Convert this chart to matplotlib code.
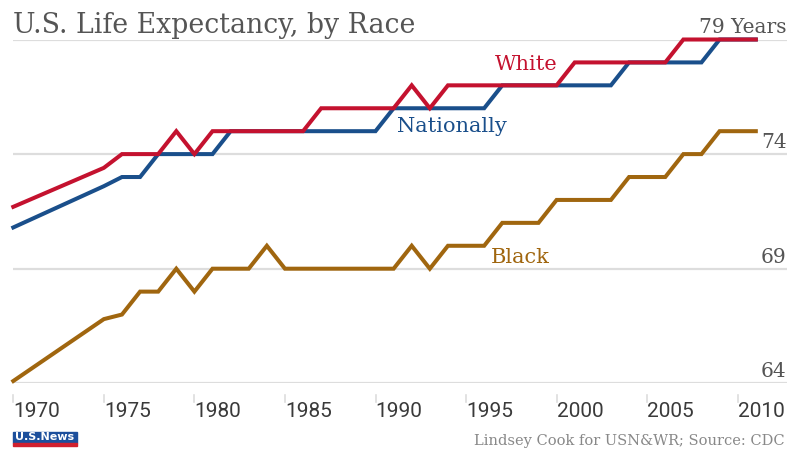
import matplotlib.pyplot as plt
from matplotlib.patches import Rectangle

# life expectancy at birth, US, by race (CDC)
years = [1970] + list(range(1975, 2012))
nationally = [70.8, 72.6, 73, 73, 74, 74, 74, 74, 75, 75, 75, 75, 75, 75, 75, 75, 75,
              76, 76, 76, 76, 76, 76, 77, 77, 77, 77, 77, 77, 77, 78, 78, 78, 78, 78,
              79, 79, 79]
white = [71.7, 73.4, 74, 74, 74, 75, 74, 75, 75, 75, 75, 75, 75, 76, 76, 76, 76, 76,
         77, 76, 77, 77, 77, 77, 77, 77, 77, 78, 78, 78, 78, 78, 78, 79, 79, 79, 79, 79]
black = [64.1, 66.8, 67, 68, 68, 69, 68, 69, 69, 69, 70, 69, 69, 69, 69, 69, 69, 69,
         70, 69, 70, 70, 70, 71, 71, 71, 72, 72, 72, 72, 73, 73, 73, 74, 74, 75, 75, 75]

tick_years = list(range(1970, 2011, 5))
grid_vals = [64, 69, 74, 79]
grid_labels = ["64", "69", "74", "79 Years"]

RED = "#c4122f"
BLUE = "#1a4f8b"
BROWN = "#a0660f"
GRAY = "#555555"
GRID = "#dddddd"

fig = plt.figure(figsize=(8, 4.51), dpi=100)
ax = fig.add_axes([13.3 / 800, 67.7 / 451, 773.4 / 800, 343.8 / 451])
ax.set_xlim(1970, 1970 + 773.4 / 18.11)
ax.set_ylim(64, 79)
ax.axis("off")

for g, lab in zip(grid_vals, grid_labels):
    ax.axhline(g, color=GRID, lw=1.6, zorder=1)
    ax.text(ax.get_xlim()[1], g + 0.27, lab, ha="right", va="baseline",
            fontsize=14.5, family="DejaVu Serif", color=GRAY)

lw = 2.9
ax.plot(years, black, color=BROWN, lw=lw, solid_joinstyle="miter", zorder=3, clip_on=False)
ax.plot(years, nationally, color=BLUE, lw=lw, solid_joinstyle="miter", zorder=4, clip_on=False)
ax.plot(years, white, color=RED, lw=lw, solid_joinstyle="miter", zorder=5, clip_on=False)

for yr in tick_years:
    ax.plot([yr, yr], [63.49, 63.2], color=GRID, lw=1.2, clip_on=False)
    ax.text(yr, 62.75, str(yr), ha="left", va="center", fontsize=15,
            family="Roboto", color="#3a3a3a", clip_on=False)

lab_kw = dict(family="DejaVu Serif", fontsize=15, va="baseline")
ax.text(1996.6, 77.66, "White", color=RED, **lab_kw)
ax.text(1991.17, 74.96, "Nationally", color=BLUE, **lab_kw)
ax.text(1996.36, 69.24, "Black", color=BROWN, **lab_kw)

fig.text(13 / 800, (451 - 33.3) / 451, "U.S. Life Expectancy, by Race",
         family="DejaVu Serif", fontsize=19.3, color=GRAY, va="baseline")

# logo
fig.patches.append(Rectangle((13 / 800, 8 / 451), 64 / 800, 11 / 451,
                             transform=fig.transFigure, color="#1c4f9c"))
fig.patches.append(Rectangle((13 / 800, 5 / 451), 64 / 800, 3 / 451,
                             transform=fig.transFigure, color="#d0202e"))
fig.text(45 / 800, 13.5 / 451, "U.S.News", ha="center", va="center", color="white",
         fontsize=8, fontweight="bold", family="DejaVu Sans")

fig.text(785 / 800, 6 / 451, "Lindsey Cook for USN&WR; Source: CDC", ha="right",
         va="baseline", family="DejaVu Serif", fontsize=10.5, color="#888888")

fig.savefig("out.png", dpi=100)
